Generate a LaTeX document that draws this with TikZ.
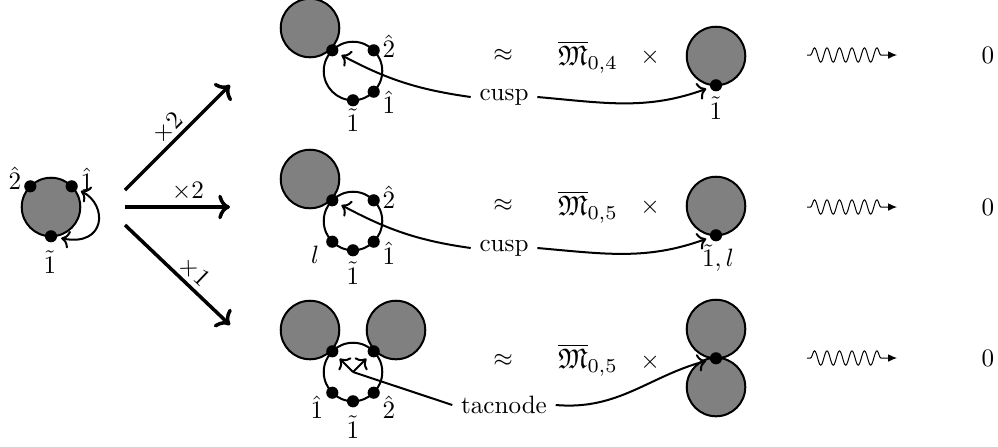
\documentclass[tikz,border=0pt]{standalone}
\usepackage{amsmath,amssymb}
\usetikzlibrary{arrows.meta, decorations.pathmorphing, positioning}

\begin{document}
\begin{tikzpicture}[x=0.014cm, y=-0.014cm, >=To,
    blob/.style={circle, draw, thick, fill=gray, minimum size=0.82cm, inner sep=0pt, outer sep=0pt},
    ring/.style={circle, draw, thick, minimum size=0.82cm, inner sep=0pt, outer sep=0pt},
    pnt/.style={circle, fill=black, minimum size=0.17cm, inner sep=0pt},
    curv/.style={->, thick, shorten >=1.5pt},
    big/.style={->, line width=1.4pt},
    mod/.style={scale=1.12},
    squig/.style={-{Latex[length=3.5pt, width=3pt]}, decorate,
        decoration={snake, amplitude=1mm, segment length=1.75mm, pre length=0.5mm, post length=2mm}}]
    \useasboundingbox (0,0) rectangle (998,446);

    % Left diagram
    \node[blob] (c0) at (51,207) {};
    \node[pnt] (c0a) at (c0.135) {};
    \node[pnt] (c0b) at (c0.45) {};
    \node[pnt] (c0c) at (c0.270) {};
    \node (lc0a) at (15,178) {$\hat{2}$};
    \node (lc0b) at (87,179) {$\hat{1}$};
    \node (lc0c) at (50,262) {$\tilde{1}$};
    \draw[<->, thick, shorten <=1.5pt, shorten >=1.5pt] (c0b) .. controls (108,205) and (106,247) .. (c0c);

    % Branch arrows
    \coordinate (s1) at (125,190);
    \coordinate (e1) at (230,85);
    \coordinate (s2) at (125,207);
    \coordinate (e2) at (230,207);
    \coordinate (s3) at (125,225);
    \coordinate (e3) at (230,325);
    \draw[big] (s1) -- (e1) node[pos=0.5, sloped, above, inner sep=1pt] {$\times 2$};
    \draw[big] (s2) -- (e2) node[pos=0.6, above, inner sep=2pt] {$\times 2$};
    \draw[big] (s3) -- (e3) node[pos=0.57, sloped, above, inner sep=1pt] {$\times 1$};

    % Top row
    \node[blob] (g1) at (310,28) {};
    \node[ring] (r1) at (353,71) {};
    \node[pnt] (r1a) at (r1.135) {};
    \node[pnt] (r1b) at (r1.45) {};
    \node[pnt] (r1c) at (r1.315) {};
    \node[pnt] (r1d) at (r1.270) {};
    \node (lr1b) at (389,46) {$\hat{2}$};
    \node (lr1c) at (389,102) {$\hat{1}$};
    \node (lr1d) at (353,120) {$\tilde{1}$};
    \node (cusp1) at (504,97) {cusp};
    \node (ap1) at (503,55) {$\approx$};
    \node[mod] (m1) at (588,57) {$\overline{\mathfrak{M}}_{0,4}$};
    \node (x1) at (650,57) {$\times$};
    \node[blob] (h1) at (716,56) {};
    \node[pnt] (h1a) at (h1.270) {};
    \node (lh1a) at (716,108) {$\tilde{1}$};
    \draw[curv] (cusp1.west) to[out=172, in=-28] (r1a);
    \draw[curv] (cusp1.east) to[out=-5, in=200] (h1a);
    \coordinate (q1s) at (807,55);
    \coordinate (q1e) at (897,55);
    \draw[squig] (q1s) -- (q1e);
    \node (z1) at (988,55) {$0$};

    % Middle row
    \node[blob] (g2) at (310,179) {};
    \node[ring] (r2) at (353,221) {};
    \node[pnt] (r2a) at (r2.135) {};
    \node[pnt] (r2b) at (r2.45) {};
    \node[pnt] (r2c) at (r2.315) {};
    \node[pnt] (r2d) at (r2.270) {};
    \node[pnt] (r2e) at (r2.225) {};
    \node (lr2b) at (389,197) {$\hat{2}$};
    \node (lr2c) at (389,253) {$\hat{1}$};
    \node (lr2d) at (353,273) {$\tilde{1}$};
    \node (lr2e) at (315,255) {$l$};
    \node (cusp2) at (504,248) {cusp};
    \node (ap2) at (503,205) {$\approx$};
    \node[mod] (m2) at (588,207) {$\overline{\mathfrak{M}}_{0,5}$};
    \node (x2) at (650,207) {$\times$};
    \node[blob] (h2) at (716,206) {};
    \node[pnt] (h2a) at (h2.270) {};
    \node (lh2a) at (718,258) {$\tilde{1},l$};
    \draw[curv] (cusp2.west) to[out=172, in=-28] (r2a);
    \draw[curv] (cusp2.east) to[out=-5, in=200] (h2a);
    \coordinate (q2s) at (807,207);
    \coordinate (q2e) at (897,207);
    \draw[squig] (q2s) -- (q2e);
    \node (z2) at (988,207) {$0$};

    % Bottom row
    \node[blob] (g3) at (310,330) {};
    \node[blob] (g4) at (396,330) {};
    \node[ring] (r3) at (353,372) {};
    \node[pnt] (r3a) at (r3.135) {};
    \node[pnt] (r3b) at (r3.45) {};
    \node[pnt] (r3c) at (r3.225) {};
    \node[pnt] (r3d) at (r3.270) {};
    \node[pnt] (r3e) at (r3.315) {};
    \node (lr3c) at (317,407) {$\hat{1}$};
    \node (lr3d) at (353,427) {$\tilde{1}$};
    \node (lr3e) at (389,407) {$\hat{2}$};
    \node (tac) at (504,405) {tacnode};
    \node (ap3) at (503,360) {$\approx$};
    \node[mod] (m3) at (588,360) {$\overline{\mathfrak{M}}_{0,5}$};
    \node (x3) at (650,362) {$\times$};
    \node[blob] (h3) at (716,329) {};
    \node[blob] (h4) at (716,387) {};
    \node[pnt] (h3a) at (h3.270) {};
    \draw[thick] (tac.west) -- (r3.center);
    \draw[curv] (r3.center) -- (r3a);
    \draw[curv] (r3.center) -- (r3b);
    \draw[curv] (tac.east) to[out=-5, in=195] (h3a);
    \coordinate (q3s) at (807,358);
    \coordinate (q3e) at (897,358);
    \draw[squig] (q3s) -- (q3e);
    \node (z3) at (988,358) {$0$};
\end{tikzpicture}
\end{document}
